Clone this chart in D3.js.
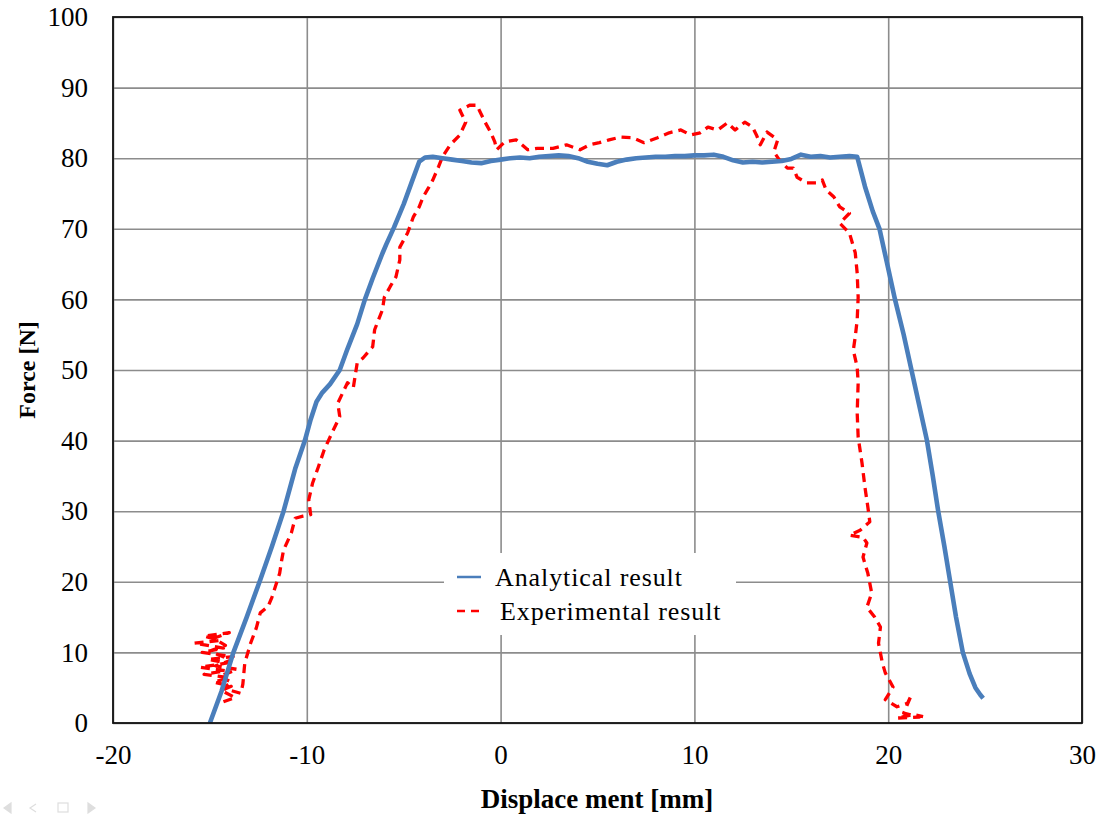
<!DOCTYPE html>
<html>
<head>
<meta charset="utf-8">
<script src="https://cdn.jsdelivr.net/npm/d3@7"></script>
<style>
  html, body { margin: 0; padding: 0; background: #fff; }
  svg { display: block; }
  text { font-family: "Liberation Serif", "Times New Roman", serif; fill: #000; }
</style>
</head>
<body>
<svg id="chart" width="1098" height="814"></svg>
<script>
// Axis ticks
const xTicks = [-20, -10, 0, 10, 20, 30];
const yTicks = [0, 10, 20, 30, 40, 50, 60, 70, 80, 90, 100];

// Series names
const seriesNames = ["Analytical result", "Experimental result"];

// Analytical result: [displacement mm, force N]
const analytical = [
  [-15.0, 0], [-14.4, 4.5], [-13.8, 9.9], [-13.1, 15], [-12.4, 20.3], [-11.8, 25],
  [-11.2, 30], [-10.9, 33], [-10.6, 36], [-10.1, 40], [-9.8, 43], [-9.5, 45.5],
  [-9.2, 46.8], [-8.8, 48], [-8.3, 50], [-7.9, 53], [-7.4, 56.5], [-7.0, 60],
  [-6.6, 63], [-6.1, 66.5], [-5.9, 67.8], [-5.5, 70.2], [-5.0, 73.5], [-4.6, 76.5],
  [-4.2, 79.5], [-3.9, 80.1], [-3.5, 80.2], [-3.0, 80.0], [-2.5, 79.8], [-2.0, 79.6],
  [-1.5, 79.4], [-1.0, 79.3], [-0.5, 79.6], [0.0, 79.8], [0.5, 80.0], [1.0, 80.1],
  [1.5, 80.0], [2.0, 80.2], [2.5, 80.3], [3.0, 80.4], [3.5, 80.3], [4.0, 80.0],
  [4.5, 79.5], [5.0, 79.2], [5.5, 79.0], [6.0, 79.5], [6.5, 79.8], [7.0, 80.0],
  [7.5, 80.1], [8.0, 80.2], [8.5, 80.2], [9.0, 80.3], [9.5, 80.3], [10.0, 80.4],
  [10.5, 80.4], [11.0, 80.5], [11.5, 80.2], [12.0, 79.7], [12.5, 79.4], [13.0, 79.5],
  [13.5, 79.4], [14.0, 79.5], [14.5, 79.6], [15.0, 79.9], [15.5, 80.5], [16.0, 80.2],
  [16.5, 80.3], [17.0, 80.1], [17.5, 80.2], [18.0, 80.3], [18.4, 80.2], [18.8, 76],
  [19.2, 72.5], [19.55, 70], [19.95, 65], [20.35, 60], [20.8, 55], [21.2, 50],
  [21.6, 45], [22.0, 40], [22.3, 35], [22.58, 30], [22.9, 25], [23.2, 20],
  [23.5, 15], [23.85, 10], [24.2, 7], [24.5, 5], [24.75, 4], [24.9, 3.5]
];

// Experimental result: [displacement mm, force N]
const experimental = [
  [-14.3, 3.0], [-13.7, 3.6], [-14.4, 4.6], [-13.9, 5.2], [-14.8, 5.8], [-14.0, 6.4],
  [-15.3, 6.9], [-14.2, 7.4], [-15.5, 7.9], [-14.1, 8.5], [-15.1, 9.0], [-13.8, 9.4],
  [-15.4, 10.0], [-14.3, 10.6], [-15.8, 11.3], [-14.5, 11.7], [-15.3, 12.3], [-14.0, 12.8],
  [-14.8, 12.0], [-14.2, 11.0], [-15.0, 10.2], [-13.9, 8.9], [-14.7, 8.1], [-13.6, 7.6],
  [-14.5, 6.6], [-13.9, 5.8], [-14.3, 4.9], [-13.4, 4.2], [-13.3, 5.5], [-13.2, 8.5],
  [-12.9, 11.3], [-12.6, 13.5], [-12.4, 15.6], [-12.0, 16.5], [-11.8, 17.8], [-11.6, 19.5],
  [-11.4, 21.2], [-11.3, 23.0], [-11.2, 24.5], [-10.8, 26.9], [-10.6, 29.0], [-10.2, 29.3],
  [-9.8, 29.5], [-9.9, 31.6], [-9.7, 34.0], [-9.4, 36.3], [-9.1, 38.7], [-8.7, 41.1],
  [-8.3, 43.4], [-8.4, 45.3], [-7.9, 48.2], [-7.6, 47.5], [-7.4, 51.0], [-7.1, 51.7],
  [-6.6, 53.3], [-6.5, 55.7], [-6.1, 58.5], [-6.0, 60.3], [-5.7, 61.8], [-5.4, 63.2],
  [-5.2, 65.6], [-5.2, 67.4], [-4.8, 69.4], [-4.5, 71.7], [-4.2, 73.1], [-4.0, 74.5],
  [-3.7, 75.9], [-3.5, 76.9], [-3.2, 78.8], [-3.0, 80.2], [-2.6, 81.9], [-2.1, 83.3],
  [-1.8, 85.1], [-2.1, 86.8], [-1.6, 87.5], [-1.2, 87.5], [-1.1, 86.8], [-0.8, 85.1],
  [-0.5, 83.6], [-0.3, 82.3], [-0.2, 81.2], [0.2, 82.3], [0.8, 82.6], [1.4, 81.2],
  [1.9, 81.4], [2.7, 81.4], [3.4, 81.9], [4.1, 81.2], [4.6, 81.9], [5.1, 82.2],
  [5.6, 82.6], [6.2, 83.0], [6.8, 82.9], [7.4, 82.2], [8.1, 82.9], [8.7, 83.6],
  [9.3, 84.0], [9.8, 83.3], [10.3, 83.6], [10.7, 84.4], [11.2, 84.0], [11.7, 85.0],
  [12.1, 84.0], [12.6, 85.1], [13.0, 84.4], [13.2, 83.3], [13.4, 81.9], [13.75, 83.7],
  [14.3, 82.6], [14.1, 80.9], [14.4, 79.7], [14.8, 78.6], [15.1, 78.6], [15.3, 77.3],
  [15.8, 76.5], [16.3, 76.5], [16.6, 76.9], [16.8, 75.5], [17.2, 74.5], [17.5, 73.1],
  [18.0, 72.2], [17.5, 70.8], [18.0, 69.4], [18.3, 66.6], [18.4, 63.7], [18.45, 60.3],
  [18.4, 57.1], [18.3, 54.7], [18.2, 52.8], [18.4, 50.4], [18.45, 48.2], [18.4, 43.9],
  [18.45, 40.5], [18.65, 36.8], [18.8, 33.4], [18.95, 30.6], [19.05, 28.5], [18.55, 27.3],
  [18.0, 26.6], [18.7, 26.3], [18.9, 25.5], [18.7, 23.5], [18.95, 21.2], [19.15, 18.4],
  [18.9, 16.4], [19.3, 15.0], [19.6, 13.6], [19.5, 11.3], [19.7, 8.5], [19.85, 7.1],
  [20.25, 5.1], [19.85, 3.3], [20.45, 2.3], [21.0, 2.8], [21.2, 4.0], [20.8, 1.4],
  [21.6, 0.85], [20.45, 0.7], [21.3, 1.2], [21.8, 0.9]
];

const colors = { analytical: "#4a7ebb", experimental: "#ff0000" };

const svg = d3.select("#chart");
const plot = { left: 113, top: 17, right: 1082, bottom: 723 };

const x = d3.scaleLinear().domain([-20, 30]).range([plot.left, plot.right]);
const y = d3.scaleLinear().domain([0, 100]).range([plot.bottom, plot.top]);

// Grid lines
const grid = svg.append("g");
grid.append("g")
  .attr("transform", `translate(0,${plot.bottom})`)
  .call(d3.axisBottom(x).tickValues(xTicks).tickSize(-(plot.bottom - plot.top)).tickFormat(""))
  .call(g => g.select(".domain").remove())
  .call(g => g.selectAll("line").attr("stroke", "#8c8c8c").attr("stroke-width", 1.6));
grid.append("g")
  .attr("transform", `translate(${plot.left},0)`)
  .call(d3.axisLeft(y).tickValues(yTicks).tickSize(-(plot.right - plot.left)).tickFormat(""))
  .call(g => g.select(".domain").remove())
  .call(g => g.selectAll("line").attr("stroke", "#8c8c8c").attr("stroke-width", 1.6));

// Tick labels (plain hyphen for negatives)
const xAxis = svg.append("g")
  .attr("transform", `translate(0,${plot.bottom})`)
  .call(d3.axisBottom(x).tickValues(xTicks).tickSize(0).tickPadding(22).tickFormat(d => String(d)));
xAxis.select(".domain").remove();
xAxis.selectAll("text").attr("font-size", 27).attr("font-family", "Liberation Serif").attr("fill", "#000");

const yAxis = svg.append("g")
  .attr("transform", `translate(${plot.left},0)`)
  .call(d3.axisLeft(y).tickValues(yTicks).tickSize(0).tickPadding(25).tickFormat(d => String(d)));
yAxis.select(".domain").remove();
yAxis.selectAll("text").attr("font-size", 27).attr("font-family", "Liberation Serif").attr("fill", "#000");

// Legend background (covers grid)
const legend = svg.append("g");
legend.append("rect")
  .attr("x", 444).attr("y", 553).attr("width", 292).attr("height", 82)
  .attr("fill", "#fff");

// Series
const line = d3.line().x(d => x(d[0])).y(d => y(d[1]));

svg.append("path")
  .datum(experimental)
  .attr("d", line)
  .attr("fill", "none")
  .attr("stroke", colors.experimental)
  .attr("stroke-width", 3.3)
  .attr("stroke-dasharray", "9,6")
  .attr("stroke-linejoin", "round");

svg.append("path")
  .datum(analytical)
  .attr("d", line)
  .attr("fill", "none")
  .attr("stroke", colors.analytical)
  .attr("stroke-width", 4.6)
  .attr("stroke-linejoin", "round");

// Plot frame
svg.append("rect")
  .attr("x", plot.left).attr("y", plot.top)
  .attr("width", plot.right - plot.left).attr("height", plot.bottom - plot.top)
  .attr("fill", "none").attr("stroke", "#111").attr("stroke-width", 1.8);

// Legend entries
const entries = [
  { name: seriesNames[0], color: colors.analytical, dash: null, y: 577, tx: 495 },
  { name: seriesNames[1], color: colors.experimental, dash: "8,6", y: 611, tx: 500 }
];
entries.forEach(e => {
  legend.append("line")
    .attr("x1", 457).attr("x2", 481).attr("y1", e.y).attr("y2", e.y)
    .attr("stroke", e.color).attr("stroke-width", 2.5)
    .attr("stroke-dasharray", e.dash);
  legend.append("text")
    .attr("x", e.tx).attr("y", e.y + 9)
    .attr("font-size", 26)
    .attr("letter-spacing", 0.9)
    .text(e.name);
});
legend.raise();

// Axis titles
svg.append("text")
  .attr("x", 597).attr("y", 808)
  .attr("text-anchor", "middle")
  .attr("font-size", 27).attr("font-weight", "bold")
  .text("Displace ment [mm]");

svg.append("text")
  .attr("transform", "translate(35,370) rotate(-90)")
  .attr("text-anchor", "middle")
  .attr("font-size", 24).attr("font-weight", "bold")
  .text("Force [N]");

// Faint navigation glyphs in the lower-left corner
const nav = svg.append("g").attr("fill", "#dedede").attr("stroke", "#dedede").attr("stroke-width", 1.2);
nav.append("path").attr("d", "M4,808 L11,803 L11,813 Z");
nav.append("path").attr("d", "M36,804 L30,808 L36,812").attr("fill", "none");
nav.append("rect").attr("x", 58).attr("y", 803).attr("width", 10).attr("height", 9).attr("fill", "none");
nav.append("path").attr("d", "M88,803 L95,808 L88,813 Z");
</script>
</body>
</html>
